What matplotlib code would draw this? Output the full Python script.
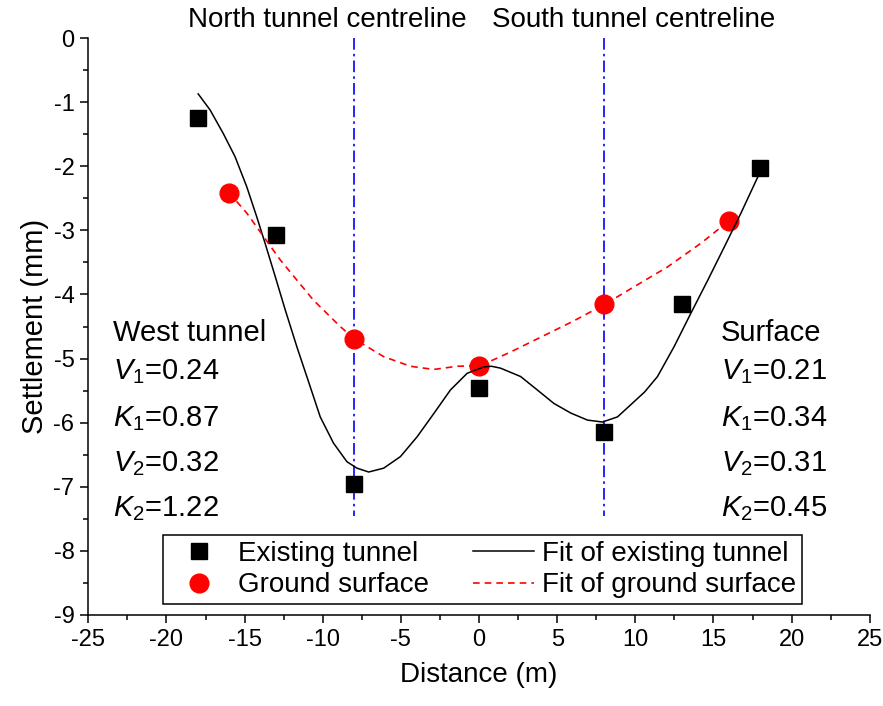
import matplotlib
matplotlib.use("Agg")
import matplotlib.pyplot as plt
from matplotlib.ticker import MultipleLocator

plt.rcParams['font.family'] = ['Liberation Sans', 'DejaVu Sans']
plt.rcParams['mathtext.fontset'] = 'custom'
plt.rcParams['mathtext.rm'] = 'Liberation Sans'
plt.rcParams['mathtext.it'] = 'Liberation Sans:italic'
plt.rcParams['axes.unicode_minus'] = False

# measured points
tunnel_x = [-18, -13, -8, 0, 8, 13, 18]
tunnel_y = [-1.25, -3.07, -6.96, -5.46, -6.14, -4.15, -2.03]
ground_x = [-16, -8, 0, 8, 16]
ground_y = [-2.41, -4.69, -5.12, -4.15, -2.85]

# fitted curves
fit_tunnel_x = [-17.97, -17.21, -16.36, -15.61, -14.86, -14.22, -13.69, -13.04,
                -12.40, -11.65, -10.80, -10.16, -9.31, -8.45, -7.81, -7.06,
                -6.10, -5.03, -3.96, -2.90, -1.83, -0.76, 0.31, 0.8, 1.38,
                2.66, 3.73, 4.79, 5.87, 6.94, 7.90, 8.86, 9.71, 10.6, 11.42,
                12.49, 13.56, 14.63, 15.69, 16.76, 18.0]
fit_tunnel_y = [-0.87, -1.12, -1.49, -1.85, -2.32, -2.79, -3.20, -3.72,
                -4.24, -4.82, -5.44, -5.91, -6.32, -6.61, -6.71, -6.77,
                -6.71, -6.53, -6.22, -5.86, -5.49, -5.23, -5.13, -5.12, -5.15,
                -5.28, -5.49, -5.70, -5.85, -5.96, -5.99, -5.91, -5.72, -5.52, -5.28,
                -4.81, -4.29, -3.78, -3.26, -2.73, -2.08]
fit_ground_x = [-16.0, -14.86, -12.72, -10.59, -8.88, -8.0, -6.10, -4.39, -2.90,
                -1.40, 0.10, 2.0, 4.0, 6.0, 8.0, 9.92, 12.06, 14.2, 16.0]
fit_ground_y = [-2.41, -2.73, -3.46, -4.09, -4.50, -4.69, -4.97, -5.12, -5.17,
                -5.12, -5.11, -4.90, -4.66, -4.42, -4.16, -3.88, -3.57, -3.20, -2.85]

centrelines = [-8, 8]
west_params = ['West tunnel', r'$V_1$=0.24', r'$K_1$=0.87', r'$V_2$=0.32', r'$K_2$=1.22']
surface_params = ['Surface', r'$V_1$=0.21', r'$K_1$=0.34', r'$V_2$=0.31', r'$K_2$=0.45']

fig = plt.figure(figsize=(8.83, 7.06), dpi=100)
ax = fig.add_axes([0.1, 0.129, 0.885, 0.817])

for c in centrelines:
    ax.plot([c, c], [0, -7.46], color='#0000ff', lw=1.2,
            dashes=(7, 2.5, 1.5, 2.5), zorder=1)

h_sq, = ax.plot(tunnel_x, tunnel_y, 's', color='black', ms=12, ls='none',
                label='Existing tunnel', zorder=4)
h_ci, = ax.plot(ground_x, ground_y, 'o', color='#ff0000', ms=13.5, ls='none',
                label='Ground surface', zorder=4)
h_ft, = ax.plot(fit_tunnel_x, fit_tunnel_y, '-', color='black', lw=1.1,
                label='Fit of existing tunnel', zorder=5)
h_fg, = ax.plot(fit_ground_x, fit_ground_y, color='#ff0000', lw=1.2,
                dashes=(4, 3), label='Fit of ground surface', zorder=5)

ax.set_xlim(-25, 25)
ax.set_ylim(-9, 0)
ax.xaxis.set_major_locator(MultipleLocator(5))
ax.xaxis.set_minor_locator(MultipleLocator(2.5))
ax.yaxis.set_major_locator(MultipleLocator(1))
ax.yaxis.set_minor_locator(MultipleLocator(0.5))
ax.spines['top'].set_visible(False)
ax.spines['right'].set_visible(False)
for s in ['left', 'bottom']:
    ax.spines[s].set_linewidth(1.1)
ax.tick_params(which='major', direction='out', length=6, width=1.1,
               labelsize=17, pad=4)
ax.tick_params(which='minor', direction='out', length=3.5, width=1.1)

ax.set_xlabel('Distance (m)', fontsize=20, labelpad=8)
ax.set_ylabel('Settlement (mm)', fontsize=21, labelpad=3)

ax.text(-9.7, 0.28, 'North tunnel centreline', fontsize=20, ha='center',
        va='center', clip_on=False)
ax.text(9.9, 0.28, 'South tunnel centreline', fontsize=20, ha='center',
        va='center', clip_on=False)

rows_y = [-4.73, -5.32, -6.05, -6.75, -7.46]
for t, y in zip(west_params, rows_y):
    ax.text(-23.43, y, t, fontsize=21, ha='left', va='baseline')
for t, y in zip(surface_params, rows_y):
    ax.text(15.48, y, t, fontsize=21, ha='left', va='baseline')

leg = ax.legend(handles=[h_sq, h_ci, h_ft, h_fg], ncol=2, loc='lower left',
                bbox_to_anchor=(0.095, 0.019), borderaxespad=0, fontsize=20,
                frameon=True, fancybox=False, framealpha=1, edgecolor='black',
                handlelength=2.2, handletextpad=0.3, columnspacing=1.6,
                labelspacing=0.2, borderpad=0.2)
leg.get_frame().set_linewidth(1.1)

fig.savefig('out.png', dpi=100)
